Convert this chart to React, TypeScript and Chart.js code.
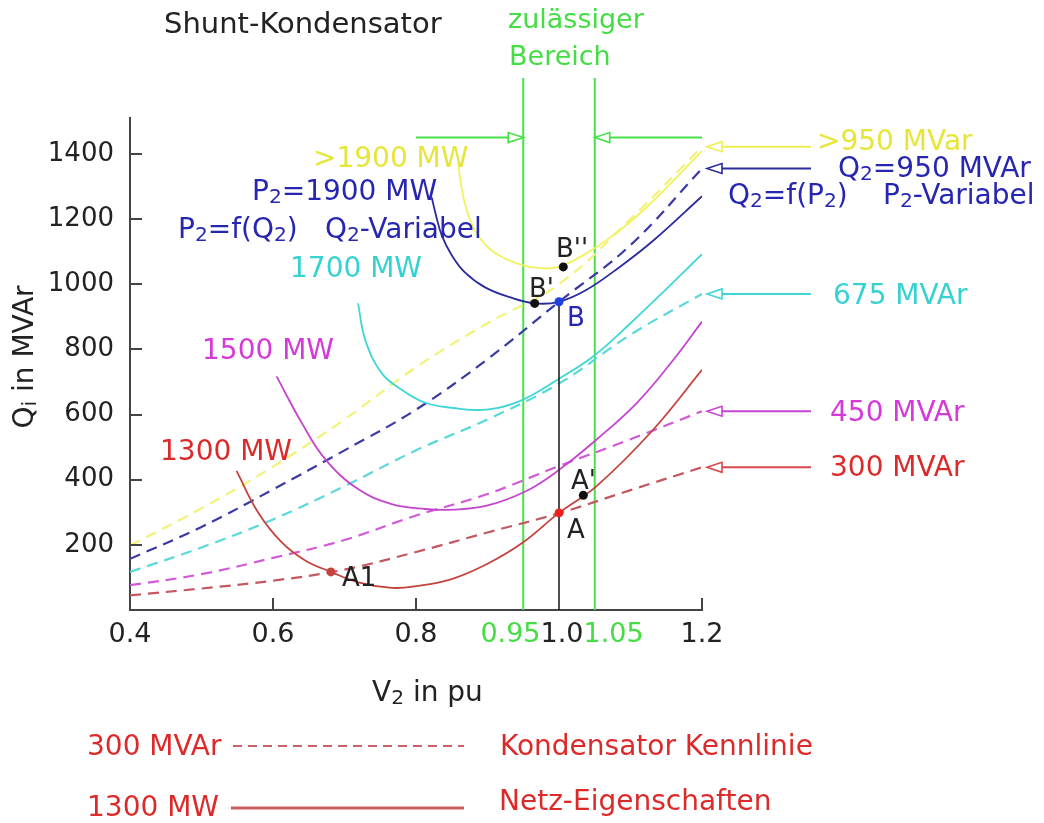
import { useEffect, useRef } from "react";
import { Chart, registerables } from "chart.js";

Chart.register(...registerables);

// ---- data ----
// Kondensator-Kennlinien (dashed), Q in MVAr over V2 in pu
const capV = [0.4, 0.5, 0.6, 0.7, 0.8, 0.9, 1.0, 1.1, 1.2];
const cap300 = [45, 66, 90, 124, 178, 238, 297, 368, 438];
const cap450 = [76, 110, 160, 215, 290, 356, 442, 524, 610];
const cap675 = [117, 192, 278, 380, 490, 585, 695, 845, 970];
const cap950 = [157, 255, 370, 490, 615, 770, 946, 1120, 1355];
const capOver950 = [198, 312, 440, 585, 745, 880, 1000, 1200, 1422];

// Netz-Eigenschaften (solid)
const net1300V = [0.549, 0.579, 0.612, 0.645, 0.681, 0.719, 0.766, 0.8, 0.85, 0.9, 0.95, 1.0, 1.053, 1.132, 1.2];
const net1300Q = [427, 300, 208, 152, 117, 85, 68, 73, 95, 142, 208, 298, 381, 554, 737];
const net1500V = [0.605, 0.64, 0.673, 0.719, 0.766, 0.813, 0.852, 0.899, 0.955, 1.0, 1.053, 1.109, 1.16, 1.2];
const net1500Q = [717, 575, 463, 371, 325, 310, 308, 320, 366, 430, 524, 636, 768, 885];
const net1700V = [0.719, 0.729, 0.752, 0.78, 0.813, 0.852, 0.899, 0.945, 1.0, 1.05, 1.1, 1.15, 1.2];
const net1700Q = [941, 829, 727, 676, 636, 620, 615, 641, 710, 782, 880, 985, 1092];
const net1900V = [0.822, 0.828, 0.836, 0.85, 0.868, 0.896, 0.931, 0.966, 1.0, 1.038, 1.085, 1.132, 1.2];
const net1900Q = [1266, 1211, 1150, 1089, 1037, 991, 960, 941, 946, 982, 1053, 1134, 1270];
const netOver1900V = [0.859, 0.862, 0.867, 0.876, 0.888, 0.905, 0.925, 0.95, 0.975, 1.0, 1.038, 1.085, 1.132, 1.2];
const netOver1900Q = [1375, 1320, 1260, 1195, 1145, 1105, 1078, 1058, 1049, 1053, 1094, 1165, 1256, 1409];

// Arbeitspunkte
const pointNames = ["A1", "A", "A'", "B", "B'", "B''"];
const pointV = [0.681, 1.0, 1.034, 1.0, 0.966, 1.006];
const pointQ = [117, 298, 352, 946, 941, 1053];

// Achsen
const yTicks = [200, 400, 600, 800, 1000, 1200, 1400];
const xTickMarks = [0.6, 0.8, 1.2];
const xTickLabels = ["0.4", "0.6", "0.8"];
const xTickLabelValues = [0.4, 0.6, 0.8];
const rangeLow = 0.95;
const rangeHigh = 1.05;

const COL = {
  red: "#c4433e",
  redDash: "#c45862",
  redText: "#dc2a2a",
  magenta: "#c445cf",
  magentaDash: "#d25ad8",
  magentaText: "#d43ad8",
  cyan: "#40d6d6",
  cyanDash: "#5cd8d8",
  cyanText: "#36d2d2",
  blue: "#2b2b9e",
  blueDash: "#3a3aa2",
  blueText: "#2626b0",
  blueDot: "#1f3fe0",
  yellow: "#f2f25e",
  yellowDash: "#f2f27a",
  yellowText: "#e6e63a",
  green: "#48e048",
  greenText: "#44dd44",
  axis: "#444444",
  text: "#222222",
};

const FAM = '"DejaVu Sans", Verdana, sans-serif';

type Seg = { t: string; sub: boolean; w?: number };
function parseRich(text: string): Seg[] {
  const segs: Seg[] = [];
  let buf = "";
  for (let i = 0; i < text.length; i++) {
    const ch = text[i];
    if (ch === "_" && i + 1 < text.length) {
      if (buf) segs.push({ t: buf, sub: false });
      buf = "";
      segs.push({ t: text[i + 1], sub: true });
      i++;
    } else buf += ch;
  }
  if (buf) segs.push({ t: buf, sub: false });
  return segs;
}

function drawRich(
  ctx: CanvasRenderingContext2D,
  text: string,
  x: number,
  y: number,
  size: number,
  color: string,
  align: "left" | "center" | "right" = "left",
  rotate = 0
) {
  const segs = parseRich(text);
  let w = 0;
  for (const s of segs) {
    ctx.font = `${s.sub ? size * 0.72 : size}px ${FAM}`;
    s.w = ctx.measureText(s.t).width;
    w += s.w;
  }
  ctx.save();
  ctx.translate(x, y);
  if (rotate) ctx.rotate(rotate);
  let cx = align === "center" ? -w / 2 : align === "right" ? -w : 0;
  ctx.fillStyle = color;
  ctx.textBaseline = "middle";
  ctx.textAlign = "left";
  for (const s of segs) {
    ctx.font = `${s.sub ? size * 0.72 : size}px ${FAM}`;
    ctx.fillText(s.t, cx, s.sub ? size * 0.16 : 0);
    cx += s.w || 0;
  }
  ctx.restore();
  return w;
}

function arrowHead(ctx: CanvasRenderingContext2D, tipX: number, y: number, dir: 1 | -1, color: string) {
  const len = 15;
  const half = 5;
  ctx.save();
  ctx.strokeStyle = color;
  ctx.fillStyle = "#ffffff";
  ctx.lineWidth = 1.6;
  ctx.beginPath();
  ctx.moveTo(tipX, y);
  ctx.lineTo(tipX - dir * len, y - half);
  ctx.lineTo(tipX - dir * len, y + half);
  ctx.closePath();
  ctx.fill();
  ctx.stroke();
  ctx.restore();
}

function hLine(ctx: CanvasRenderingContext2D, x1: number, x2: number, y: number, color: string, width: number, dash: number[] = []) {
  ctx.save();
  ctx.strokeStyle = color;
  ctx.lineWidth = width;
  ctx.setLineDash(dash);
  ctx.beginPath();
  ctx.moveTo(x1, y);
  ctx.lineTo(x2, y);
  ctx.stroke();
  ctx.restore();
}

const pairs = (xs: number[], ys: number[]) => xs.map((x, i) => ({ x, y: ys[i] }));

function curve(xs: number[], ys: number[], color: string, dashed: boolean) {
  return {
    data: pairs(xs, ys),
    showLine: true,
    borderColor: color,
    backgroundColor: color,
    borderWidth: dashed ? 2.2 : 1.8,
    borderDash: dashed ? [11, 7] : [],
    pointRadius: 0,
    fill: false,
    tension: 0.4,
    order: dashed ? 3 : 2,
  };
}

const annotationPlugin = {
  id: "annotations",
  beforeDatasetsDraw(chart: any) {
    const { ctx, chartArea, scales } = chart;
    const xs = scales.x;
    ctx.save();
    ctx.strokeStyle = COL.green;
    ctx.lineWidth = 2;
    for (const v of [rangeLow, rangeHigh]) {
      const px = xs.getPixelForValue(v);
      ctx.beginPath();
      ctx.moveTo(px, 78);
      ctx.lineTo(px, chartArea.bottom);
      ctx.stroke();
    }
    ctx.restore();
  },
  afterDraw(chart: any) {
    const { ctx, chartArea, scales } = chart;
    const xs = scales.x;
    const ys = scales.y;
    const X = (v: number) => xs.getPixelForValue(v);
    const Y = (v: number) => ys.getPixelForValue(v);

    // inward tick marks
    ctx.save();
    ctx.strokeStyle = COL.axis;
    ctx.lineWidth = 2;
    for (const t of yTicks) {
      const py = Math.round(Y(t));
      ctx.beginPath();
      ctx.moveTo(chartArea.left, py);
      ctx.lineTo(chartArea.left + 12, py);
      ctx.stroke();
    }
    for (const t of xTickMarks) {
      const px = Math.round(X(t));
      ctx.beginPath();
      ctx.moveTo(px, chartArea.bottom);
      ctx.lineTo(px, chartArea.bottom - 12);
      ctx.stroke();
    }
    ctx.restore();

    // x tick labels
    const tickY = 635;
    xTickLabelValues.forEach((v, i) => drawRich(ctx, xTickLabels[i], X(v), tickY, 27, COL.text, "center"));
    drawRich(ctx, "1.2", X(1.2), tickY, 27, COL.text, "center");
    ctx.font = `27px ${FAM}`;
    const oneW = ctx.measureText("1.0").width;
    const oneC = X(1.0) + 3;
    drawRich(ctx, "1.0", oneC, tickY, 27, COL.text, "center");
    drawRich(ctx, "0.95", oneC - oneW / 2, tickY, 27, COL.greenText, "right");
    drawRich(ctx, "1.05", oneC + oneW / 2, tickY, 27, COL.greenText, "left");

    // axis titles
    drawRich(ctx, "V_2 in pu", 372, 694, 28, COL.text, "left");
    drawRich(ctx, "Q_i in MVAr", 26, 357, 28, COL.text, "center", -Math.PI / 2);

    // title + zulässiger Bereich
    drawRich(ctx, "Shunt-Kondensator", 164, 25, 29, COL.text, "left");
    drawRich(ctx, "zulässiger", 508, 21, 27, COL.greenText, "left");
    drawRich(ctx, "Bereich", 509, 58, 27, COL.greenText, "left");

    // green range arrows
    const gy = Y(1450);
    hLine(ctx, X(0.8), X(rangeLow) - 15, gy, COL.green, 2);
    arrowHead(ctx, X(rangeLow), gy, 1, COL.green);
    hLine(ctx, X(1.2), X(rangeHigh) + 15, gy, COL.green, 2);
    arrowHead(ctx, X(rangeHigh), gy, -1, COL.green);

    // right-hand arrows to capacitor line ends
    const arrows: [number, string][] = [
      [capOver950[capOver950.length - 1], "#eeee50"],
      [cap950[cap950.length - 1], COL.blue],
      [cap675[cap675.length - 1], COL.cyan],
      [cap450[cap450.length - 1], COL.magenta],
      [cap300[cap300.length - 1], "#d84848"],
    ];
    const tipX = X(1.2) + 5;
    for (const [q, c] of arrows) {
      const py = Y(q);
      hLine(ctx, tipX + 15, 811, py, c, 2);
      arrowHead(ctx, tipX, py, -1, c);
    }

    // curve labels
    drawRich(ctx, ">1900 MW", 313, 160, 28, COL.yellowText);
    drawRich(ctx, "P_2=1900 MW", 252, 193, 28, COL.blueText);
    drawRich(ctx, "P_2=f(Q_2)", 178, 231, 28, COL.blueText);
    drawRich(ctx, "Q_2-Variabel", 325, 231, 28, COL.blueText);
    drawRich(ctx, "1700 MW", 290, 270, 28, COL.cyanText);
    drawRich(ctx, "1500 MW", 202, 352, 28, COL.magentaText);
    drawRich(ctx, "1300 MW", 160, 453, 28, COL.redText);

    drawRich(ctx, ">950 MVar", 817, 143, 28, COL.yellowText);
    drawRich(ctx, "Q_2=950 MVAr", 838, 170, 28, COL.blueText);
    drawRich(ctx, "Q_2=f(P_2)", 728, 197, 28, COL.blueText);
    drawRich(ctx, "P_2-Variabel", 883, 197, 28, COL.blueText);
    drawRich(ctx, "675 MVAr", 833, 297, 28, COL.cyanText);
    drawRich(ctx, "450 MVAr", 830, 414, 28, COL.magentaText);
    drawRich(ctx, "300 MVAr", 830, 469, 28, COL.redText);

    // point labels
    const labelPos: [number, number, string][] = [
      [342, 579, COL.text],
      [567, 531, COL.text],
      [571, 482, COL.text],
      [567, 319, COL.blueText],
      [529, 290, COL.text],
      [556, 250, COL.text],
    ];
    pointNames.forEach((n, i) => drawRich(ctx, n, labelPos[i][0], labelPos[i][1], 26, labelPos[i][2]));

    // bottom legend
    drawRich(ctx, "300 MVAr", 87, 748, 28, COL.redText);
    hLine(ctx, 233, 464, 746, "#cc6068", 2.2, [9, 6]);
    drawRich(ctx, "Kondensator Kennlinie", 500, 748, 28, COL.redText);
    drawRich(ctx, "1300 MW", 87, 809, 28, COL.redText);
    hLine(ctx, 231, 464, 808, "#c86060", 3.2);
    drawRich(ctx, "Netz-Eigenschaften", 499, 803, 28, COL.redText);
  },
};

export default function App() {
  const ref = useRef<HTMLCanvasElement | null>(null);

  useEffect(() => {
    if (!ref.current) return;
    const pointColors = [COL.red, "#ee2020", "#111111", COL.blueDot, "#111111", "#111111"];
    const chart = new Chart(ref.current, {
      type: "scatter",
      data: {
        datasets: [
          {
            data: pairs(pointV, pointQ),
            showLine: false,
            pointRadius: 4.5,
            pointBorderWidth: 0,
            pointBackgroundColor: pointColors,
            pointBorderColor: pointColors,
            order: 0,
          } as any,
          {
            data: [
              { x: pointV[3], y: 0 },
              { x: pointV[3], y: pointQ[3] },
            ],
            showLine: true,
            borderColor: "#222222",
            borderWidth: 1.6,
            pointRadius: 0,
            order: 1,
          },
          curve(netOver1900V, netOver1900Q, COL.yellow, false),
          curve(net1900V, net1900Q, COL.blue, false),
          curve(net1700V, net1700Q, COL.cyan, false),
          curve(net1500V, net1500Q, COL.magenta, false),
          curve(net1300V, net1300Q, COL.red, false),
          curve(capV, capOver950, COL.yellowDash, true),
          curve(capV, cap950, COL.blueDash, true),
          curve(capV, cap675, COL.cyanDash, true),
          curve(capV, cap450, COL.magentaDash, true),
          curve(capV, cap300, COL.redDash, true),
        ],
      },
      options: {
        responsive: false,
        animation: false,
        devicePixelRatio: 1,
        layout: { padding: { left: 0, top: 118, right: 342, bottom: 163 } },
        plugins: {
          legend: { display: false },
          tooltip: { enabled: false },
          title: { display: false },
        },
        scales: {
          x: {
            type: "linear",
            min: 0.4,
            max: 1.2,
            grid: { display: false, drawTicks: false },
            border: { display: true, color: COL.axis, width: 2 },
            ticks: { display: false },
            afterFit: (s: any) => {
              s.height = 50;
            },
          },
          y: {
            type: "linear",
            min: 0,
            max: 1510,
            grid: { display: false, drawTicks: false },
            border: { display: true, color: COL.axis, width: 2 },
            ticks: {
              stepSize: 200,
              includeBounds: false,
              padding: 16,
              color: COL.text,
              font: { family: "DejaVu Sans", size: 26 },
              callback: (v: any) => (Number(v) === 0 ? "" : String(v)),
            },
            afterFit: (s: any) => {
              s.width = 130;
            },
          },
        },
      },
      plugins: [annotationPlugin],
    });
    return () => chart.destroy();
  }, []);

  return (
    <div style={{ position: "absolute", left: 0, top: 0, width: 1044, height: 823, background: "#ffffff" }}>
      <canvas ref={ref} width={1044} height={823} style={{ display: "block" }} />
    </div>
  );
}
